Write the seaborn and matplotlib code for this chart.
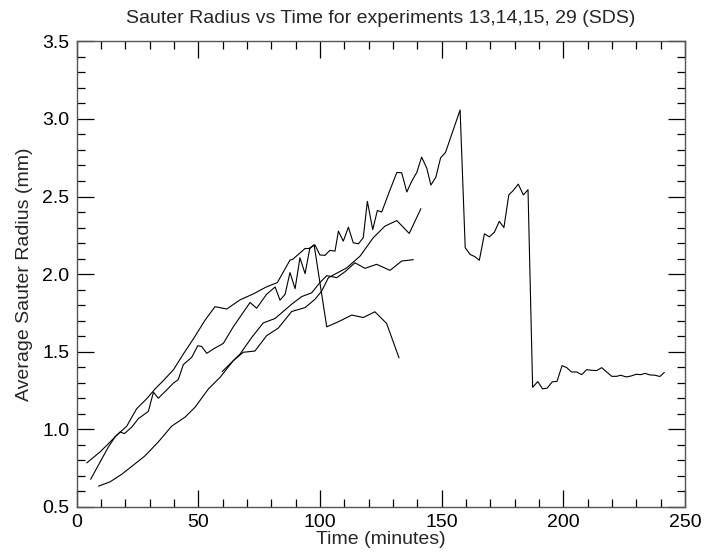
import numpy as np
import pandas as pd
import matplotlib
matplotlib.use("Agg")
import matplotlib.pyplot as plt
import seaborn as sns
from matplotlib.ticker import MultipleLocator

# values (time in minutes, radius in mm)
t_a = [4.2, 9.7, 13.1, 16.5, 20.6, 24.7, 28.8, 32.3, 35.7, 39.8, 43.9, 48.0, 52.8,
       56.9, 61.7, 67.2, 72.6, 78.1, 82.5, 87.7, 88.8, 93.9, 95.9, 97.6,
       102.8, 107.6, 113.1, 117.8, 122.6, 127.4, 132.5]
r_a = [0.783, 0.854, 0.907, 0.961, 1.019, 1.132, 1.196, 1.26, 1.314, 1.383, 1.485, 1.582, 1.703,
       1.79, 1.775, 1.834, 1.872, 1.918, 1.945, 2.09, 2.095, 2.165, 2.165, 2.19,
       1.66, 1.693, 1.736, 1.72, 1.757, 1.682, 1.46]

t_b = [5.8, 9.7, 13.1, 15.8, 17.9, 19.7, 22.7, 25.4, 29.5, 31.6, 33.6, 37.1, 39.8, 41.8,
       43.9, 47.3, 49.8, 51.4, 53.5, 56.2, 60.3, 64.4, 71.3, 74.0, 78.1, 81.6, 83.6, 85.7,
       87.7, 89.8, 91.8, 93.9, 95.9, 98.0, 100.0, 102.1, 104.1, 106.2, 107.6, 109.6, 111.7,
       113.7, 115.8, 117.8, 119.5, 121.7, 123.6, 125.4, 128.5, 131.6, 133.6, 135.7, 137.7,
       139.8, 141.8, 143.9, 145.6, 147.6, 149.6, 151.6, 157.6, 159.7, 161.7, 163.7, 165.5,
       167.6, 169.6, 171.7, 173.7, 175.6, 177.6, 179.5, 181.5, 183.6, 185.5, 187.4, 189.5,
       191.5, 193.4, 195.5, 197.4, 199.5, 201.4, 203.4, 205.5, 207.6, 209.6, 211.7, 213.7,
       215.8, 217.8, 219.9, 221.9, 223.6, 225.8, 227.8, 229.9, 231.8, 233.6, 235.6, 237.7,
       239.7, 241.5]
r_b = [0.677, 0.789, 0.886, 0.95, 0.982, 0.972, 1.014, 1.068, 1.115, 1.239, 1.20, 1.254, 1.297, 1.32,
       1.417, 1.463, 1.538, 1.534, 1.489, 1.517, 1.553, 1.66, 1.817, 1.78, 1.87, 1.917, 1.832, 1.87,
       2.01, 1.906, 2.105, 2.003, 2.17, 2.187, 2.123, 2.121, 2.153, 2.148, 2.277, 2.212, 2.302,
       2.202, 2.195, 2.234, 2.469, 2.287, 2.41, 2.40, 2.53, 2.655, 2.653, 2.529, 2.598,
       2.655, 2.754, 2.683, 2.574, 2.623, 2.75, 2.784, 3.058, 2.17, 2.127, 2.112, 2.089,
       2.26, 2.24, 2.27, 2.34, 2.30, 2.51, 2.54, 2.58, 2.51, 2.544, 1.27, 1.307,
       1.26, 1.265, 1.306, 1.308, 1.41, 1.397, 1.369, 1.369, 1.352, 1.384, 1.38, 1.378,
       1.397, 1.369, 1.341, 1.341, 1.348, 1.337, 1.343, 1.354, 1.352, 1.36, 1.35, 1.348,
       1.34, 1.366]

t_c = [9.0, 13.8, 18.6, 23.3, 28.1, 33.6, 39.1, 44.6, 48.7, 54.2, 59.0, 64.4, 68.5, 73.3,
       78.1, 82.9, 88.4, 93.9, 98.0, 100.7, 103.5, 111.0, 116.5, 121.9, 126.7, 131.6, 136.7, 141.5]
r_c = [0.633, 0.661, 0.71, 0.768, 0.828, 0.918, 1.02, 1.078, 1.142, 1.26, 1.335, 1.442, 1.496, 1.504,
       1.603, 1.652, 1.759, 1.784, 1.838, 1.89, 1.977, 2.04, 2.116, 2.234, 2.309, 2.345, 2.262, 2.422]

t_d = [59.9, 67.2, 72.0, 76.7, 81.6, 88.4, 92.5, 96.6, 100.0, 102.8, 106.9, 110.3, 114.4,
       118.5, 123.3, 128.8, 133.6, 138.4]
r_d = [1.372, 1.485, 1.592, 1.685, 1.714, 1.806, 1.855, 1.879, 1.945, 1.99, 1.977, 2.015, 2.073,
       2.037, 2.063, 2.024, 2.084, 2.093]

series = {"13": (t_a, r_a), "14": (t_b, r_b), "15": (t_c, r_c), "29": (t_d, r_d)}

sns.set_style("ticks")
plt.rcParams["font.family"] = ["Liberation Sans", "DejaVu Sans"]

fig = plt.figure(figsize=(7.04, 5.54), dpi=100)
ax = fig.add_axes([0.1087, 0.0852, 0.8643, 0.8401])

# one black line per experiment
for name, (t, r) in series.items():
    df = pd.DataFrame({"time": t, "radius": r})
    sns.lineplot(data=df, x="time", y="radius", color="black", linewidth=0.8,
                 estimator=None, sort=False, ax=ax)

ax.set_xlim(0, 250)
ax.set_ylim(0.5, 3.5)
ax.xaxis.set_major_locator(MultipleLocator(50))
ax.xaxis.set_minor_locator(MultipleLocator(10))
ax.yaxis.set_major_locator(MultipleLocator(0.5))
ax.yaxis.set_minor_locator(MultipleLocator(0.1))
ax.xaxis.set_major_formatter(plt.FuncFormatter(lambda v, p: f"{v:.0f}"))
ax.yaxis.set_major_formatter(plt.FuncFormatter(lambda v, p: f"{v:.1f}"))
ax.tick_params(which="both", direction="in", top=True, right=True, width=0.9,
               colors="black", labelsize=14)
ax.tick_params(which="major", length=12, pad=5)
ax.tick_params(which="minor", length=6)
for s in ax.spines.values():
    s.set_linewidth(1.0)
    s.set_color("#555555")

ax.set_title("Sauter Radius vs Time for experiments 13,14,15, 29 (SDS)", fontsize=14, pad=13)
ax.set_xlabel("Time (minutes)", fontsize=14, labelpad=0)
ax.set_ylabel("Average Sauter Radius (mm)", fontsize=14, labelpad=7)

fig.savefig("out.png", dpi=100)
